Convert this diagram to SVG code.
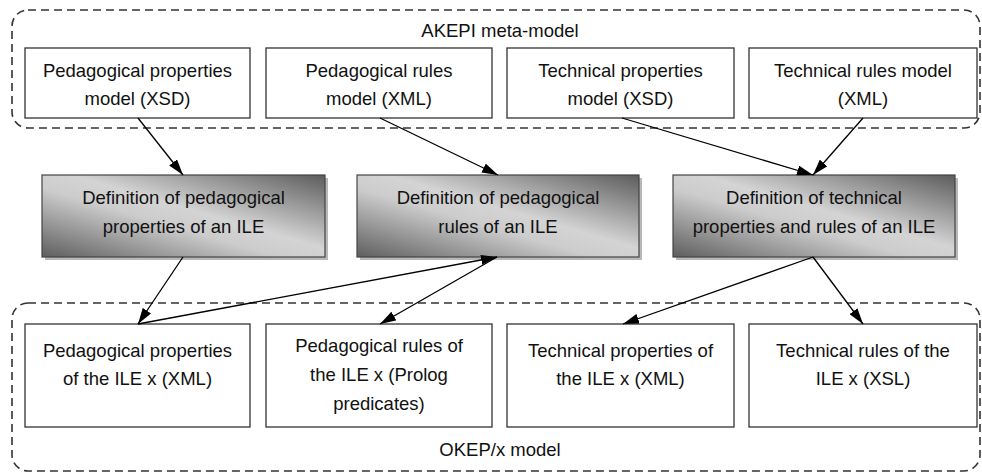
<svg xmlns="http://www.w3.org/2000/svg" width="982" height="473" viewBox="0 0 982 473">
<defs>
<linearGradient id="g" x1="1" y1="0" x2="0" y2="1">
<stop offset="0" stop-color="#5c5c5c"/>
<stop offset="0.45" stop-color="#d4d4d4"/>
<stop offset="0.58" stop-color="#cccccc"/>
<stop offset="1" stop-color="#5e5e5e"/>
</linearGradient>
<marker id="arr" viewBox="0 0 16 10" refX="16" refY="5" markerWidth="16" markerHeight="10" markerUnits="userSpaceOnUse" orient="auto">
<path d="M0,0 L16,5 L0,10 Z" fill="#000"/>
</marker>
<style>
text{font-family:"Liberation Sans",Arial,sans-serif;font-size:18.5px;fill:#111;text-anchor:middle}
.box{fill:#fff;stroke:#333;stroke-width:1.3}
.grp{fill:none;stroke:#333;stroke-width:1.6;stroke-dasharray:8,5}
.def{fill:url(#g);stroke:#444;stroke-width:1.2}
.sh{fill:#b8b8b8}
.c{stroke:#000;stroke-width:1.3;fill:none;marker-end:url(#arr)}
</style>
</defs>

<g id="akepi">
<rect class="grp" x="12" y="10" width="968" height="118" rx="16"/>
<text x="500" y="37">AKEPI meta-model</text>
</g>
<g id="okep">
<rect class="grp" x="12" y="303" width="968" height="168" rx="16"/>
<text x="500" y="456">OKEP/x model</text>
</g>

<g id="t1"><rect class="box" x="25" y="48" width="225" height="70"/><text x="137.5" y="77">Pedagogical properties</text><text x="137.5" y="105">model (XSD)</text></g>
<g id="t2"><rect class="box" x="266" y="48" width="226" height="70"/><text x="379" y="77">Pedagogical rules</text><text x="379" y="105">model (XML)</text></g>
<g id="t3"><rect class="box" x="507" y="48" width="227" height="70"/><text x="620.5" y="77">Technical properties</text><text x="620.5" y="105">model (XSD)</text></g>
<g id="t4"><rect class="box" x="749" y="48" width="228" height="70"/><text x="863" y="77">Technical rules model</text><text x="863" y="105">(XML)</text></g>

<g id="dA"><rect class="sh" x="45" y="178" width="283" height="82"/><rect class="def" x="42" y="175" width="283" height="82"/><text x="183.5" y="204">Definition of pedagogical</text><text x="183.5" y="233">properties of an ILE</text></g>
<g id="dB"><rect class="sh" x="360" y="178" width="282" height="82"/><rect class="def" x="357" y="175" width="282" height="82"/><text x="498" y="204">Definition of pedagogical</text><text x="498" y="233">rules of an ILE</text></g>
<g id="dC"><rect class="sh" x="676" y="178" width="282" height="82"/><rect class="def" x="673" y="175" width="282" height="82"/><text x="814" y="204">Definition of technical</text><text x="814" y="233">properties and rules of an ILE</text></g>

<g id="b1"><rect class="box" x="25" y="324" width="225" height="103"/><text x="137.5" y="357">Pedagogical properties</text><text x="137.5" y="385">of the ILE x (XML)</text></g>
<g id="b2"><rect class="box" x="266" y="324" width="226" height="103"/><text x="379" y="352">Pedagogical rules of</text><text x="379" y="381">the ILE x (Prolog</text><text x="379" y="410">predicates)</text></g>
<g id="b3"><rect class="box" x="507" y="324" width="227" height="103"/><text x="620.5" y="357">Technical properties of</text><text x="620.5" y="385">the ILE x (XML)</text></g>
<g id="b4"><rect class="box" x="749" y="324" width="228" height="103"/><text x="863" y="357">Technical rules of the</text><text x="863" y="385">ILE x (XSL)</text></g>

<g id="connectors">
<line class="c" x1="138" y1="118" x2="183" y2="175"/>
<line class="c" x1="380" y1="118" x2="498" y2="175"/>
<line class="c" x1="622" y1="118" x2="813" y2="175"/>
<line class="c" x1="863" y1="118" x2="813" y2="175"/>
<line class="c" x1="183" y1="257" x2="138" y2="324"/>
<line class="c" x1="138" y1="324" x2="497" y2="257"/>
<line class="c" x1="497" y1="257" x2="380" y2="324"/>
<line class="c" x1="813" y1="257" x2="623" y2="324"/>
<line class="c" x1="813" y1="257" x2="863" y2="324"/>
</g>
</svg>
